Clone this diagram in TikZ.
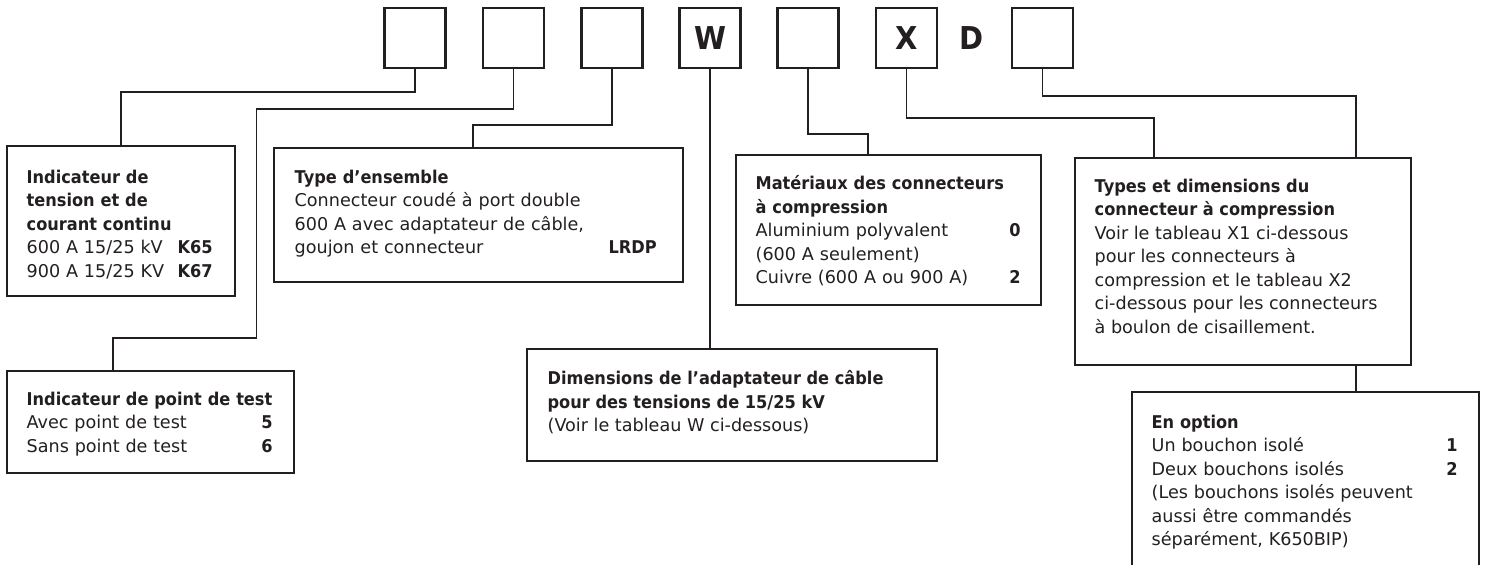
\documentclass[tikz,border=0pt]{standalone}
\usepackage{fontspec}
\setmainfont{DejaVu Sans}[BoldFeatures={FakeStretch=0.92}]
\usetikzlibrary{positioning}
\definecolor{ink}{HTML}{231F20}

\begin{document}
\begin{tikzpicture}[x=0.5pt,y=-0.5pt,
  every node/.style={text=ink},
  digit/.style={draw=ink,line width=1.1pt,minimum width=30.5pt,
    minimum height=30pt,inner sep=0pt,font=\fontsize{15.75}{16}\selectfont\bfseries},
  infobox/.style={draw=ink,line width=0.75pt,inner sep=0pt},
  infotext/.style={align=left,inner sep=0pt,
    font=\fontsize{8.8}{11.75}\selectfont},
  link/.style={draw=ink,line width=0.75pt}]

  \useasboundingbox (0,0) rectangle (1485,565);
  \clip (0,0) rectangle (1485,565);

  % code boxes
  \foreach \x/\lbl/\nm in {415//d1,513.5//d2,612//d3,710/W/d4,808//d5,906.5/X/d6,1042.5//d7}
    \node[digit] (\nm) at (\x,38) {\lbl};
  \node[font=\fontsize{15.75}{16}\selectfont\bfseries,inner sep=0pt] (dd) at (972,38) {D};

  % tension indicator
  \node[infobox,minimum width=114pt,minimum height=75pt] (tension) at (121,221) {};
  \node[infotext,text width=93pt,below right=12pt and 10pt of tension.north west] (tensiontxt)
    {\textbf{Indicateur de}\\ \textbf{tension et de}\\ \textbf{courant continu}\\
     600 A 15/25 kV\hfill\textbf{K65}\\ 900 A 15/25 KV\hfill\textbf{K67}};

  % test point
  \node[infobox,minimum width=143.5pt,minimum height=51pt] (test) at (150.5,422) {};
  \node[infotext,text width=123pt,below right=10.5pt and 10pt of test.north west] (testtxt)
    {\textbf{Indicateur de point de test}\\ Avec point de test\hfill\textbf{5}\\
     Sans point de test\hfill\textbf{6}};

  % assembly type
  \node[infobox,minimum width=204.5pt,minimum height=67pt] (type) at (478.5,215) {};
  \node[infotext,text width=181pt,below right=11pt and 10.5pt of type.north west] (typetxt)
    {\textbf{Type d’ensemble}\\ Connecteur coudé à port double\\
     600 A avec adaptateur de câble,\\ goujon et connecteur\hfill\textbf{LRDP}};

  % cable adapter
  \node[infobox,minimum width=205pt,minimum height=56pt] (dims) at (732,405) {};
  \node[infotext,below right=11pt and 10.5pt of dims.north west] (dimstxt)
    {\textbf{Dimensions de l’adaptateur de câble}\\
     \textbf{pour des tensions de 15/25 kV}\\ (Voir le tableau W ci-dessous)};

  % connector material
  \node[infobox,minimum width=152.5pt,minimum height=75pt] (mat) at (888.5,230) {};
  \node[infotext,text width=132.5pt,below right=10.5pt and 10pt of mat.north west] (mattxt)
    {\textbf{Matériaux des connecteurs}\\ \textbf{à compression}\\
     Aluminium polyvalent\hfill\textbf{0}\\ (600 A seulement)\\
     Cuivre (600 A ou 900 A)\hfill\textbf{2}};

  % connector types
  \node[infobox,minimum width=168pt,minimum height=103.5pt] (types) at (1243,261.5) {};
  \node[infotext,below right=10.5pt and 10pt of types.north west] (typestxt)
    {\textbf{Types et dimensions du}\\ \textbf{connecteur à compression}\\
     Voir le tableau X1 ci-dessous\\ pour les connecteurs à\\
     compression et le tableau X2\\ ci-dessous pour les connecteurs\\
     à boulon de cisaillement.};

  % options
  \node[infobox,minimum width=173.5pt,minimum height=104pt] (opt) at (1305.5,496) {};
  \node[infotext,text width=153pt,below right=11.5pt and 10pt of opt.north west] (opttxt)
    {\textbf{En option}\\ Un bouchon isolé\hfill\textbf{1}\\
     Deux bouchons isolés\hfill\textbf{2}\\ (Les bouchons isolés peuvent\\
     aussi être commandés\\ séparément, K650BIP)};

  % connectors
  \draw[link] (d1.south) -- ++(0,23) -| (tension.north);
  \draw[link] (d2.south) -- ++(0,40) -- ++(-257,0) -- ++(0,229) -| ([xshift=-18.75pt]test.north);
  \draw[link] (d3.south) -- ++(0,56) -| ([xshift=-2.75pt]type.north);
  \draw[link] (d4.south) -- (d4.south |- dims.north);
  \draw[link] (d5.south) -- ++(0,65) -| ([xshift=-10.25pt]mat.north);
  \draw[link] (d6.south) -- ++(0,49) -| ([xshift=-44.5pt]types.north);
  \draw[link] (d7.south) -- ++(0,27) -| ([xshift=56.5pt]types.north);
  \draw[link] ([xshift=56.5pt]types.south) -- ([xshift=56.5pt]types.south |- opt.north);

\end{tikzpicture}
\end{document}
